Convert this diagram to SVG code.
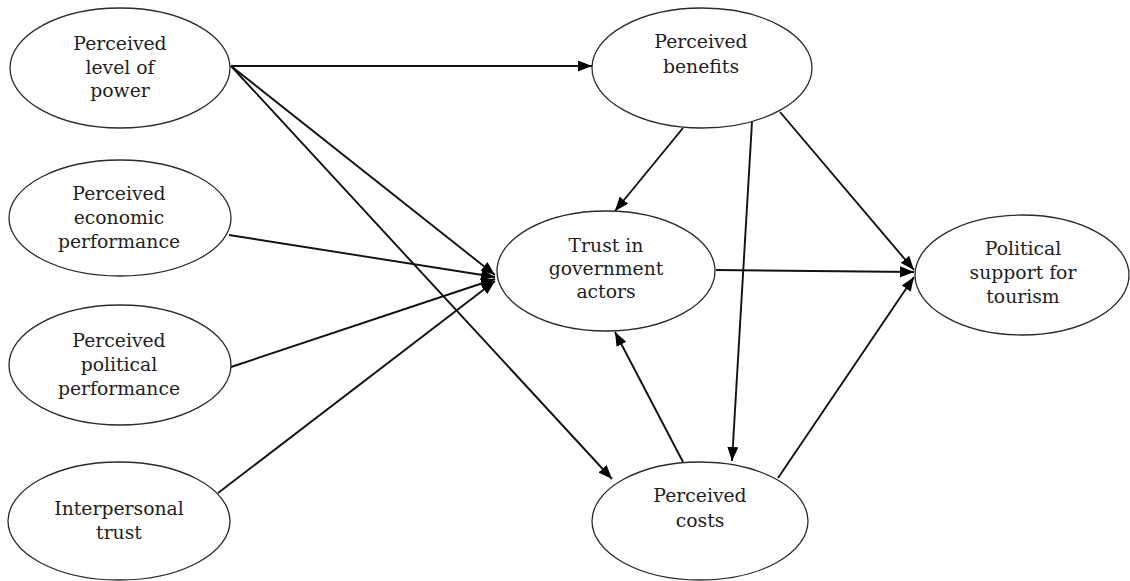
<svg xmlns="http://www.w3.org/2000/svg" width="1130" height="581" viewBox="0 0 1130 581">
  <style>
    .node ellipse { fill: #ffffff; stroke: #2a2a2a; stroke-width: 1.3; }
    .node text { font-family: "DejaVu Serif", "Liberation Serif", serif; font-size: 18.8px; fill: #1e1e1e; text-anchor: middle; }
    .edges line { stroke: #111111; stroke-width: 1.9; fill: none; marker-end: url(#arrow); }
  </style>
  <defs>
    <marker id="arrow" markerUnits="userSpaceOnUse" markerWidth="15" markerHeight="11" refX="14" refY="5.5" orient="auto">
      <path d="M0,0 L14,5.5 L0,11 z" fill="#000000"/>
    </marker>
  </defs>
  <rect width="1130" height="581" fill="#ffffff"/>

  <!-- connectors -->
  <g id="edges" class="edges">
    <line x1="231" y1="66" x2="592" y2="66"/>
    <line x1="231" y1="66" x2="495" y2="275"/>
    <line x1="231" y1="66" x2="612" y2="479"/>
    <line x1="229" y1="235" x2="495" y2="277"/>
    <line x1="231" y1="367" x2="495" y2="279"/>
    <line x1="218" y1="493" x2="495" y2="281"/>
    <line x1="683" y1="128" x2="615" y2="211"/>
    <line x1="752" y1="122" x2="732" y2="461"/>
    <line x1="780" y1="112" x2="914" y2="270"/>
    <line x1="716" y1="270" x2="914" y2="272"/>
    <line x1="778" y1="478" x2="914" y2="277"/>
    <line x1="683" y1="462" x2="615" y2="332"/>
  </g>

  <!-- nodes -->
  <g id="power" class="node">
    <ellipse cx="120" cy="68" rx="110" ry="60"/>
    <text x="120" y="50">Perceived</text>
    <text x="120" y="74">level of</text>
    <text x="120" y="97">power</text>
  </g>
  <g id="economic" class="node">
    <ellipse cx="120" cy="218" rx="111" ry="58"/>
    <text x="119" y="200">Perceived</text>
    <text x="119" y="224">economic</text>
    <text x="119" y="248">performance</text>
  </g>
  <g id="political" class="node">
    <ellipse cx="120" cy="365" rx="111" ry="60"/>
    <text x="119" y="347">Perceived</text>
    <text x="119" y="371">political</text>
    <text x="119" y="395">performance</text>
  </g>
  <g id="interpersonal" class="node">
    <ellipse cx="119" cy="521" rx="111" ry="59"/>
    <text x="119" y="515">Interpersonal</text>
    <text x="119" y="539">trust</text>
  </g>
  <g id="benefits" class="node">
    <ellipse cx="702" cy="68" rx="110" ry="60"/>
    <text x="701" y="48">Perceived</text>
    <text x="701" y="73">benefits</text>
  </g>
  <g id="trust" class="node">
    <ellipse cx="606" cy="271" rx="109" ry="60"/>
    <text x="606" y="252">Trust in</text>
    <text x="606" y="275">government</text>
    <text x="606" y="298">actors</text>
  </g>
  <g id="support" class="node">
    <ellipse cx="1022" cy="275" rx="107" ry="60"/>
    <text x="1023" y="255">Political</text>
    <text x="1023" y="279">support for</text>
    <text x="1023" y="303">tourism</text>
  </g>
  <g id="costs" class="node">
    <ellipse cx="700" cy="521" rx="108" ry="59"/>
    <text x="700" y="502">Perceived</text>
    <text x="700" y="527">costs</text>
  </g>
</svg>
